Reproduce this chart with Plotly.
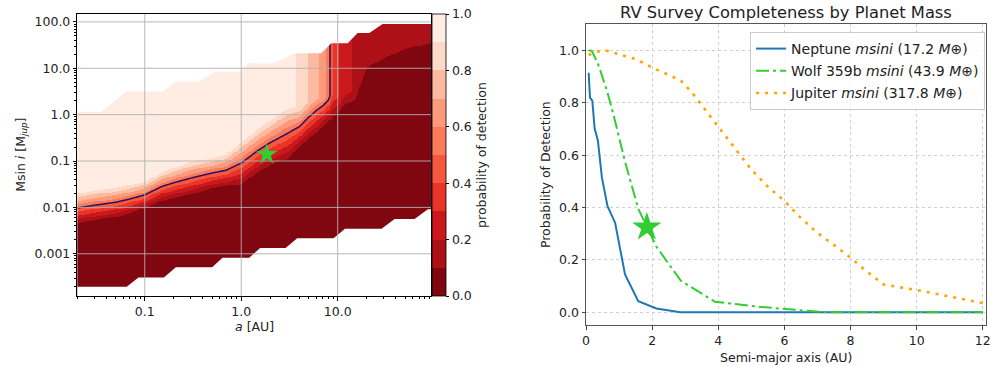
import numpy as np
import plotly.graph_objects as go

# ---------------- Left panel: detection probability map ----------------
# columns of semi-major axis (AU) and, per column, read-off transition of detection probability
a_cols = [0.02, 0.03, 0.05, 0.07, 0.1, 0.15, 0.2, 0.3, 0.5, 0.7, 1.0, 1.5, 2.0, 3.0, 4.0,
          5.0, 6.0, 7.0, 8.0, 9.0, 10.0, 12.0, 15.0, 20.0, 30.0, 50.0, 93.0]
# log10(Msini/MJup) where probability starts to rise above 0
logm_zero = [-2.41, -2.35, -2.28, -2.20, -2.08, -1.93, -1.87, -1.80, -1.66, -1.62, -1.60, -1.35,
             -1.20, -1.08, -0.80, -0.62, -0.50, -0.35, -0.25, -0.20, -0.10, 0.05, 0.10, 0.80,
             1.00, 1.20, 1.30]
# log10(Msini/MJup) where probability reaches its plateau
logm_top = [-1.64, -1.58, -1.52, -1.46, -1.40, -1.19, -1.09, -0.96, -0.88, -0.80, -0.52, -0.22,
            -0.04, 0.20, 0.15, 0.27, 0.35, 0.35, 0.38, 0.45, 0.35, 0.50, 0.50, 1.15, 1.35, 1.55,
            1.70]
# plateau probability per column
p_top = [0.97, 0.97, 0.97, 0.97, 0.97, 0.97, 0.97, 0.97, 0.97, 0.97, 0.97, 0.97, 0.97, 0.95,
         0.88, 0.79, 0.72, 0.65, 0.56, 0.38, 0.31, 0.24, 0.18, 0.16, 0.16, 0.16, 0.16]

# edges of the simulated region (outside is blank)
upper_edge_a = [0.02, 0.0355, 0.064, 0.153, 0.21, 0.365, 0.54, 0.976, 1.19, 2.15, 3.6, 6.76,
                8.57, 12.7, 16.1, 21.3, 29.2, 93.0]
upper_edge_m = [1.16, 1.16, 3.14, 3.14, 5.16, 5.16, 8.5, 8.5, 12.9, 12.9, 21.2, 21.2, 34.8, 34.8,
                57.3, 57.3, 89.6, 89.6]
lower_edge_a = [0.02, 0.065, 0.086, 0.158, 0.21, 0.50, 0.64, 1.21, 1.57, 2.88, 3.8, 9.06, 11.9,
                28.5, 38.9, 62.7, 86.0, 93.0]
lower_edge_m = [0.000194, 0.000194, 0.00031, 0.00031, 0.00051, 0.00051, 0.00082, 0.00082,
                0.00133, 0.00133, 0.00215, 0.00215, 0.00347, 0.00347, 0.0056, 0.0056, 0.0091,
                0.0091]

# Wolf 359b
star_a = 1.84
star_m = 0.138
star_p = 0.325

left_xticks = [0.1, 1.0, 10.0]
left_xticklabels = ["0.1", "1.0", "10.0"]
left_yticks = [0.001, 0.01, 0.1, 1.0, 10.0, 100.0]
left_yticklabels = ["0.001", "0.01", "0.1", "1.0", "10.0", "100.0"]
cbar_ticks = [0.0, 0.2, 0.4, 0.6, 0.8, 1.0]
cbar_ticklabels = ["0.0", "0.2", "0.4", "0.6", "0.8", "1.0"]

# ---------------- Right panel: completeness curves ----------------
neptune_a = [0.08, 0.12, 0.19, 0.26, 0.36, 0.48, 0.65, 0.88, 1.18, 1.58, 2.13, 2.85, 3.9, 5.3,
             7.2, 9.7, 12.0]
neptune_p = [0.915, 0.82, 0.808, 0.703, 0.655, 0.515, 0.405, 0.342, 0.144, 0.042, 0.014, 0.0,
             0.0, 0.0, 0.0, 0.0, 0.0]
wolf_a = [0.08, 0.13, 0.19, 0.27, 0.36, 0.48, 0.65, 0.88, 1.18, 1.58, 2.13, 2.87, 3.9, 5.3, 7.2,
          9.7, 12.0]
wolf_p = [1.0, 1.0, 0.995, 0.975, 0.95, 0.905, 0.84, 0.73, 0.575, 0.395, 0.25, 0.12, 0.04, 0.02,
          0.0, 0.0, 0.0]
jupiter_a = [0.08, 0.3, 0.6, 1.0, 1.5, 2.0, 2.5, 2.87, 3.2, 3.6, 4.0, 4.5, 5.0, 5.5, 6.0, 6.5,
             7.0, 7.5, 8.0, 8.5, 9.0, 9.5, 10.0, 11.0, 12.0]
jupiter_p = [0.982, 0.995, 1.0, 0.985, 0.967, 0.935, 0.905, 0.885, 0.84, 0.775, 0.71, 0.625,
             0.545, 0.48, 0.425, 0.36, 0.303, 0.257, 0.208, 0.155, 0.106, 0.095, 0.085, 0.06,
             0.035]
right_xticks = [0, 2, 4, 6, 8, 10, 12]
right_yticks = [0.0, 0.2, 0.4, 0.6, 0.8, 1.0]
right_yticklabels = ["0.0", "0.2", "0.4", "0.6", "0.8", "1.0"]

# ---------------- build the probability surface from the read columns ----------------
# left panel drawn on log10 coordinates (decade axes labelled with the real values)
L = np.log10
FONT = "DejaVu Sans"
xr_left = [L(0.02), L(93.0)]
yr_left = [L(1.23e-4), L(148.0)]

la_cols = L(np.array(a_cols))
gx = np.linspace(xr_left[0], xr_left[1], 420)
gy = np.linspace(yr_left[0] - 0.02, yr_left[1] + 0.02, 320)
zero_i = np.interp(gx, la_cols, logm_zero)
top_i = np.interp(gx, la_cols, logm_top)
ptop_i = np.interp(gx, la_cols, p_top)
frac = np.clip((gy[:, None] - zero_i[None, :]) / (top_i - zero_i)[None, :], 0.0, 1.0)
z = np.round(ptop_i[None, :] * frac, 3)

band_colors = ["rgb(128,6,16)", "rgb(173,17,23)", "rgb(203,24,29)", "rgb(232,52,41)",
               "rgb(246,87,62)", "rgb(251,122,90)", "rgb(252,154,123)", "rgb(252,187,161)",
               "rgb(254,217,200)", "rgb(255,237,228)"]
cscale = []
for k, c in enumerate(band_colors):
    cscale.append([k / 10.0, c])
    cscale.append([(k + 1) / 10.0, c])

fig = go.Figure()

fig.add_trace(go.Heatmap(
    x=gx, y=gy, z=z, xaxis="x", yaxis="y", colorscale=cscale, zmin=0, zmax=1,
    showlegend=False, hoverinfo="skip",
    colorbar=dict(
        x=0.4317, xanchor="left", xref="paper", y=1 - 155 / 367, yanchor="middle",
        len=282 / 367, lenmode="fraction", thickness=14, thicknessmode="pixels",
        xpad=0, ypad=0, outlinewidth=0.8, outlinecolor="black",
        ticks="outside", ticklen=3.5, tickwidth=0.8, tickcolor="black",
        tickvals=cbar_ticks, ticktext=cbar_ticklabels,
        tickfont=dict(family=FONT, size=12.5, color="#222"),
        title=dict(text="probability of detection", side="right",
                   font=dict(family=FONT, size=12.5, color="#222")),
    ),
))

fig.add_trace(go.Contour(
    x=gx, y=gy, z=z, xaxis="x", yaxis="y", showscale=False, showlegend=False,
    autocontour=False, contours=dict(start=0.5, end=0.55, size=0.1, coloring="none"),
    line=dict(color="#24105e", width=1.5, smoothing=0.6), hoverinfo="skip",
))

# blank (unsimulated) regions
x_lo, x_hi = xr_left[0] - 0.2, xr_left[1] + 0.2
y_lo, y_hi = yr_left[0] - 0.2, yr_left[1] + 0.2
fig.add_trace(go.Scatter(
    x=[x_lo] + [L(v) for v in upper_edge_a] + [x_hi, x_hi, x_lo],
    y=[L(upper_edge_m[0])] + [L(v) for v in upper_edge_m] + [L(upper_edge_m[-1]), y_hi, y_hi],
    fill="toself", fillcolor="white", mode="lines", line=dict(width=0, color="white"),
    xaxis="x", yaxis="y", showlegend=False, hoverinfo="skip"))
fig.add_trace(go.Scatter(
    x=[x_lo] + [L(v) for v in lower_edge_a] + [x_hi, x_hi, x_lo],
    y=[L(lower_edge_m[0])] + [L(v) for v in lower_edge_m] + [L(lower_edge_m[-1]), y_lo, y_lo],
    fill="toself", fillcolor="white", mode="lines", line=dict(width=0, color="white"),
    xaxis="x", yaxis="y", showlegend=False, hoverinfo="skip"))

# grid lines drawn above the filled map (as in the original)
for v in left_xticks:
    fig.add_trace(go.Scatter(x=[L(v), L(v)], y=yr_left, mode="lines",
                             line=dict(color="#b0b0b0", width=0.9), xaxis="x", yaxis="y",
                             showlegend=False, hoverinfo="skip"))
for v in left_yticks:
    fig.add_trace(go.Scatter(x=xr_left, y=[L(v), L(v)], mode="lines",
                             line=dict(color="#b0b0b0", width=0.9), xaxis="x", yaxis="y",
                             showlegend=False, hoverinfo="skip"))

fig.add_trace(go.Scatter(x=[L(star_a)], y=[L(star_m)], mode="markers", xaxis="x", yaxis="y",
                         marker=dict(symbol="star", size=16, color="#32cd32", line=dict(width=0)),
                         showlegend=False, hoverinfo="skip"))

# ---------------- right panel ----------------
EARTH = "⊕"
fig.add_trace(go.Scatter(x=neptune_a, y=neptune_p, mode="lines", xaxis="x2", yaxis="y2",
                         name="Neptune <i>msini</i> (17.2 <i>M</i>" + EARTH + ")", legendgroup="a",
                         line=dict(color="#1f77b4", width=2)))
fig.add_trace(go.Scatter(x=wolf_a, y=wolf_p, mode="lines", xaxis="x2", yaxis="y2",
                         name="Wolf 359b <i>msini</i> (43.9 <i>M</i>" + EARTH + ")", legendgroup="b",
                         line=dict(color="#32cd32", width=2, dash="13px,4px,3px,4px")))
fig.add_trace(go.Scatter(x=jupiter_a, y=jupiter_p, mode="lines", xaxis="x2", yaxis="y2",
                         name="Jupiter <i>msini</i> (317.8 <i>M</i>" + EARTH + ")", legendgroup="c",
                         line=dict(color="#ffa500", width=2.6, dash="3px,6px")))
fig.add_trace(go.Scatter(x=[star_a], y=[star_p], mode="markers", xaxis="x2", yaxis="y2",
                         marker=dict(symbol="star", size=22, color="#32cd32", line=dict(width=0)),
                         showlegend=False, hoverinfo="skip"))

tickfont = dict(family=FONT, size=12.5, color="#222")
minor_vals = [L(m * 10.0 ** k) for k in range(-5, 3) for m in range(2, 10)]

fig.update_layout(
    width=1000, height=367, margin=dict(l=0, r=0, t=0, b=0),
    paper_bgcolor="white", plot_bgcolor="white",
    font=dict(family=FONT, size=12.5, color="#222"),
    xaxis=dict(domain=[0.074, 0.431], anchor="y", range=xr_left,
               tickvals=[L(v) for v in left_xticks], ticktext=left_xticklabels, ticks="outside",
               ticklen=3.5, tickwidth=0.8, tickcolor="black", showgrid=False, zeroline=False,
               showline=True, mirror=True, linecolor="black", linewidth=1, tickfont=tickfont,
               minor=dict(ticks="outside", ticklen=2, tickwidth=0.6, tickcolor="black",
                          tickvals=minor_vals, showgrid=False)),
    yaxis=dict(domain=[1 - 296 / 367, 1 - 14 / 367], anchor="x", range=yr_left,
               tickvals=[L(v) for v in left_yticks], ticktext=left_yticklabels, ticks="outside",
               ticklen=3.5, tickwidth=0.8, tickcolor="black", showgrid=False, zeroline=False,
               showline=True, mirror=True, linecolor="black", linewidth=1, tickfont=tickfont,
               minor=dict(ticks="outside", ticklen=2, tickwidth=0.6, tickcolor="black",
                          tickvals=minor_vals, showgrid=False)),
    xaxis2=dict(domain=[0.5873, 0.991], anchor="y2", range=[0, 12.1], tickvals=right_xticks,
                ticks="outside", ticklen=3.5, tickwidth=0.8, tickcolor="#444",
                showgrid=True, gridcolor="#d0d0d0", griddash="dot", gridwidth=0.8,
                zeroline=False, showline=True, mirror=True, linecolor="#555", linewidth=1,
                tickfont=tickfont),
    yaxis2=dict(domain=[1 - 325.3 / 367, 1 - 24.3 / 367], anchor="x2", range=[-0.05, 1.1],
                tickvals=right_yticks, ticktext=right_yticklabels, ticks="outside",
                ticklen=3.5, tickwidth=0.8, tickcolor="#444",
                showgrid=True, gridcolor="#d0d0d0", griddash="dot", gridwidth=0.8,
                zeroline=False, showline=True, mirror=True, linecolor="#555", linewidth=1,
                tickfont=tickfont),
    legend=dict(x=0.99, xanchor="right", y=1 - 32 / 367, yanchor="top",
                bgcolor="rgba(255,255,255,0.85)", bordercolor="#cccccc", borderwidth=1,
                font=dict(family=FONT, size=14, color="#222"), tracegroupgap=1),
    annotations=[
        dict(text="Msin <i>i</i> [M<sub><i>jup</i></sub>]", x=17 / 1000, y=1 - 155 / 367,
             xref="paper", yref="paper", showarrow=False, textangle=-90,
             xanchor="center", yanchor="middle", font=dict(family=FONT, size=12.5, color="#222")),
        dict(text="<i>a</i> [AU]", x=253 / 1000, y=1 - 326 / 367, xref="paper", yref="paper",
             showarrow=False, xanchor="center", yanchor="middle",
             font=dict(family=FONT, size=12.5, color="#222")),
        dict(text="Semi-major axis (AU)", x=789 / 1000, y=1 - 357 / 367, xref="paper",
             yref="paper", showarrow=False, xanchor="center", yanchor="middle",
             font=dict(family=FONT, size=12.5, color="#222")),
        dict(text="Probability of Detection", x=546 / 1000, y=1 - 175 / 367, xref="paper",
             yref="paper", showarrow=False, textangle=-90, xanchor="center", yanchor="middle",
             font=dict(family=FONT, size=12.5, color="#222")),
        dict(text="RV Survey Completeness by Planet Mass", x=789 / 1000, y=1 - 12.7 / 367,
             xref="paper", yref="paper", showarrow=False, xanchor="center", yanchor="middle",
             font=dict(family=FONT, size=16.3, color="#222")),
    ],
)

fig.write_html("out.html")
